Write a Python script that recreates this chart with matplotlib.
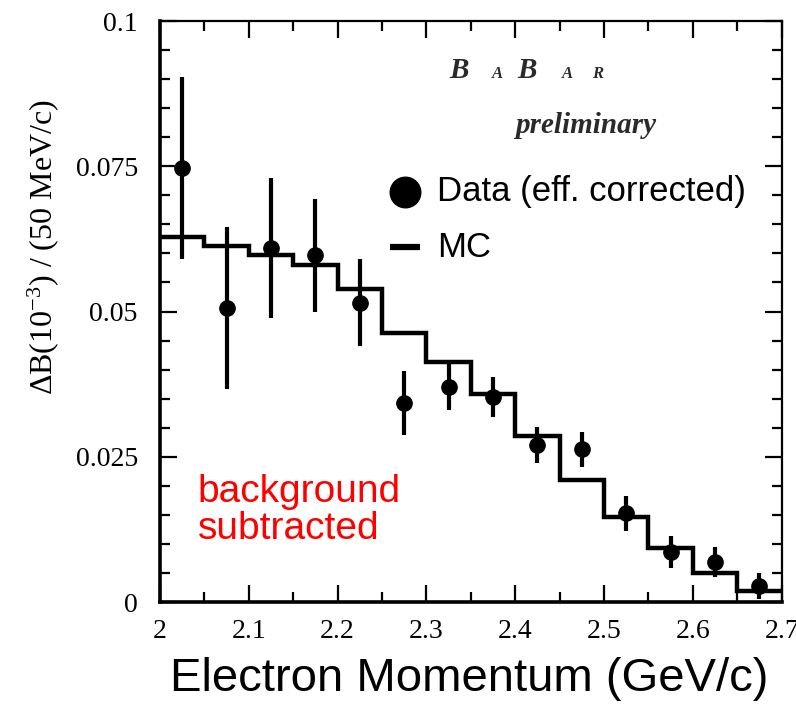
import matplotlib
matplotlib.use("Agg")
import matplotlib.pyplot as plt
from matplotlib.ticker import MultipleLocator

# electron momentum bins, 50 MeV/c wide
BIN_EDGES = [2.00, 2.05, 2.10, 2.15, 2.20, 2.25, 2.30, 2.35,
             2.40, 2.45, 2.50, 2.55, 2.60, 2.65, 2.70]
BIN_CENTERS = [2.025, 2.075, 2.125, 2.175, 2.225, 2.275, 2.325,
               2.375, 2.425, 2.475, 2.525, 2.575, 2.625, 2.675]

# efficiency corrected data, background subtracted
DATA_Y = [0.0747, 0.0506, 0.0609, 0.0597, 0.0515, 0.0343, 0.0370,
          0.0353, 0.0270, 0.0263, 0.0153, 0.0086, 0.0069, 0.0028]
DATA_ERR = [0.0157, 0.0140, 0.0120, 0.0097, 0.0075, 0.0055, 0.0040,
            0.0035, 0.0031, 0.0030, 0.0030, 0.0028, 0.0026, 0.0022]

# MC prediction per bin
MC_Y = [0.0628, 0.0613, 0.0597, 0.0580, 0.0539, 0.0463, 0.0413,
        0.0358, 0.0286, 0.0210, 0.0146, 0.0093, 0.0050, 0.0019]

X_TICKS = [2.0, 2.1, 2.2, 2.3, 2.4, 2.5, 2.6, 2.7]
X_TICKLABELS = ["2", "2.1", "2.2", "2.3", "2.4", "2.5", "2.6", "2.7"]
Y_TICKS = [0.0, 0.025, 0.05, 0.075, 0.1]
Y_TICKLABELS = ["0", "0.025", "0.05", "0.075", "0.1"]

SERIF = "Liberation Serif"
SANS = "Liberation Sans"

plt.rcParams["mathtext.fontset"] = "custom"
plt.rcParams["mathtext.rm"] = SERIF
plt.rcParams["mathtext.it"] = SERIF + ":italic"

fig = plt.figure(figsize=(7.96, 7.08), dpi=100)
ax = fig.add_axes([0.201, 0.1497, 0.781, 0.8206])

ax.stairs(MC_Y, BIN_EDGES, baseline=None, color="black", lw=3.2)
ax.errorbar(BIN_CENTERS, DATA_Y, yerr=DATA_ERR, fmt="o", color="black",
            ms=11, elinewidth=3, capsize=0, zorder=5)

ax.set_xlim(2.0, 2.7)
ax.set_ylim(0.0, 0.1)
ax.set_xticks(X_TICKS)
ax.set_xticklabels(X_TICKLABELS)
ax.set_yticks(Y_TICKS)
ax.set_yticklabels(Y_TICKLABELS)
ax.xaxis.set_minor_locator(MultipleLocator(0.05))
ax.yaxis.set_minor_locator(MultipleLocator(0.005))
ax.tick_params(which="both", direction="in", top=True, right=True,
               width=1.6, color="black")
ax.tick_params(which="major", length=12, labelsize=20,
               labelfontfamily=SERIF)
ax.tick_params(which="minor", length=7)
ax.tick_params(axis="x", which="major", pad=12)
ax.tick_params(axis="y", which="major", pad=16)
for side in ["left", "bottom"]:
    ax.spines[side].set_linewidth(2.6)
for side in ["top", "right"]:
    ax.spines[side].set_linewidth(1.6)

ax.set_ylabel(r"$\Delta$B(10$^{-3}$) / (50 MeV/c)",
              family=SERIF, fontsize=23)
ax.yaxis.set_label_coords(-0.16, 0.61)
ax.set_xlabel("Electron Momentum (GeV/c)", family=SANS, fontsize=34)
ax.xaxis.set_label_coords(0.498, -0.094)

# BaBar logo with small-cap letters
logo_color = "#2a2a2a"
for x, txt, size in [(0.466, "B", 21), (0.534, "A", 12), (0.574, "B", 21),
                     (0.646, "A", 12), (0.695, "R", 12)]:
    ax.text(x, 0.902, txt, transform=ax.transAxes, family=SERIF,
            fontsize=size, fontweight="bold", fontstyle="italic",
            color=logo_color, ha="left", va="baseline")
ax.text(0.571, 0.807, "preliminary", transform=ax.transAxes, family=SERIF,
        fontsize=21, fontweight="bold", fontstyle="italic",
        color=logo_color, ha="left", va="baseline")

# hand-placed legend
ax.plot([0.394], [0.706], "o", color="black", ms=22,
        transform=ax.transAxes, clip_on=False)
ax.text(0.445, 0.706, "Data (eff. corrected)", transform=ax.transAxes,
        family=SANS, fontsize=25, ha="left", va="center")
ax.plot([0.370, 0.418], [0.611, 0.611], "-", color="black", lw=4.5,
        transform=ax.transAxes, solid_capstyle="butt")
ax.text(0.445, 0.611, "MC", transform=ax.transAxes,
        family=SANS, fontsize=25, ha="left", va="center")

ax.text(0.061, 0.158, "background\nsubtracted", transform=ax.transAxes,
        family=SANS, fontsize=28, color="red", ha="left", va="center",
        linespacing=1.05)

fig.savefig("out.png", dpi=100)
